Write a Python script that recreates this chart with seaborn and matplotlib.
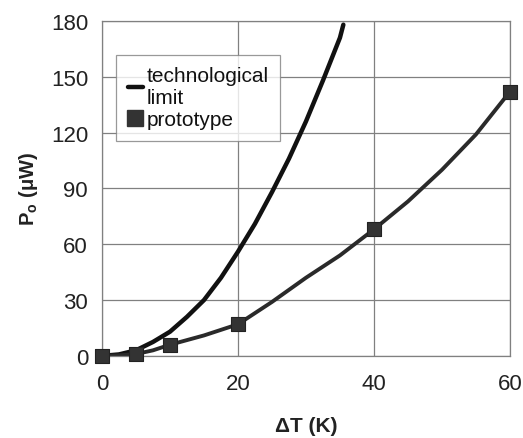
import matplotlib
matplotlib.use("Agg")
import matplotlib.pyplot as plt
import seaborn as sns
import pandas as pd
from matplotlib.lines import Line2D

# Data
proto_T = [0, 5, 10, 20, 40, 60]
proto_P = [0, 1, 6, 17, 68, 142]

# readings of the smoothed prototype curve
proto_curve_T = [0, 2.5, 5, 7.5, 10, 12.5, 15, 17.5, 20, 25, 30, 35, 40, 45, 50, 55, 60]
proto_curve_P = [0, 0.3, 1, 3, 6, 8.5, 11, 14, 17, 29, 42, 54, 68, 83, 100, 119, 142]

# readings of the technological-limit curve
tech_T = [0, 2.5, 5, 7.5, 10, 12.5, 15, 17.5, 20, 22.5, 25, 27.5, 30, 32.5, 35, 35.5]
tech_P = [0, 0.8, 3, 7.5, 13, 21, 30, 42, 56, 71, 88, 106, 126, 148, 171, 178]

x_ticks = [0, 20, 40, 60]
y_ticks = [0, 30, 60, 90, 120, 150, 180]

sns.set_theme(style="white")
plt.rcParams['font.family'] = ['Liberation Sans', 'DejaVu Sans']
plt.rcParams['mathtext.fontset'] = 'custom'
plt.rcParams['mathtext.rm'] = 'Liberation Sans'
plt.rcParams['mathtext.bf'] = 'Liberation Sans:bold'

fig = plt.figure(figsize=(5.23, 4.39), dpi=100)
ax = fig.add_axes([0.195, 0.187, 0.78, 0.763])

tech_df = pd.DataFrame({"T": tech_T, "P": tech_P})
curve_df = pd.DataFrame({"T": proto_curve_T, "P": proto_curve_P})
proto_df = pd.DataFrame({"T": proto_T, "P": proto_P})

sns.lineplot(data=tech_df, x="T", y="P", ax=ax, color="#111111", lw=3.2,
             sort=False, estimator=None, solid_joinstyle="round")
sns.lineplot(data=curve_df, x="T", y="P", ax=ax, color="#2a2a2a", lw=2.8,
             sort=False, estimator=None, solid_joinstyle="round")
sns.scatterplot(data=proto_df, x="T", y="P", ax=ax, marker="s", s=110,
                color="#333333", edgecolor="#222222", linewidth=0.8, zorder=5,
                clip_on=False)

ax.set_xlim(0, 60)
ax.set_ylim(0, 180)
ax.set_xticks(x_ticks)
ax.set_yticks(y_ticks)
ax.tick_params(axis='y', labelsize=16, colors="#222222", length=0, pad=10)
ax.tick_params(axis='x', labelsize=16, colors="#222222", length=0, pad=12)
ax.grid(True, color="#808080", lw=0.9)
for s in ax.spines.values():
    s.set_color("#808080")
    s.set_linewidth(0.9)

ax.set_xlabel("ΔT (K)", fontsize=15, fontweight="bold", labelpad=16, color="#222222")
ax.set_ylabel(r"P$_{\mathbf{o}}$ (μW)", fontsize=14.5, fontweight="bold",
              labelpad=8, color="#222222")

handles = [Line2D([0], [0], color="#111111", lw=3.2),
           Line2D([0], [0], marker="s", color="#333333", lw=0, markersize=11)]
leg = ax.legend(handles, ["technological\nlimit", "prototype"],
                loc="upper left", bbox_to_anchor=(0.01, 0.93), fontsize=15,
                handlelength=0.7, handletextpad=0.2, frameon=True,
                fancybox=False, borderpad=0.55, labelspacing=0.15)
leg.get_frame().set_edgecolor("#808080")
leg.get_frame().set_linewidth(0.9)
for t in leg.get_texts():
    t.set_color("#111111")

fig.savefig("out.png", dpi=100)
